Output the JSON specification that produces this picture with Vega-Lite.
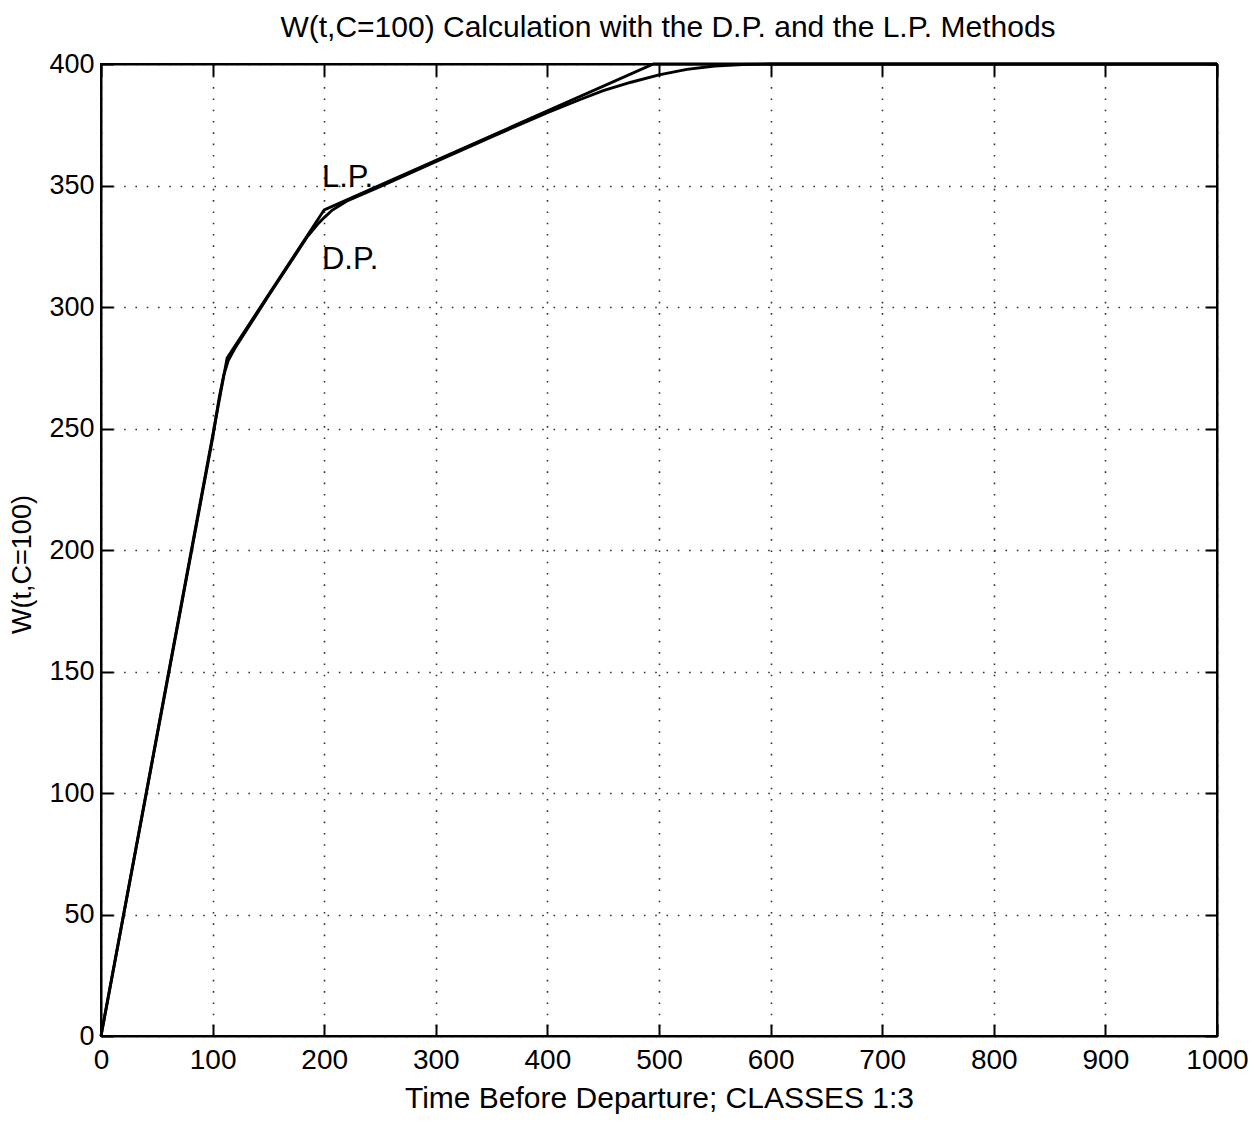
{
  "$schema": "https://vega.github.io/schema/vega-lite/v6.json",
  "width": 1116,
  "height": 972,
  "autosize": {"type": "none"},
  "padding": {"left": 101, "top": 64, "right": 42, "bottom": 86},
  "background": "white",
  "title": {
    "text": "W(t,C=100) Calculation with the D.P. and the L.P. Methods",
    "fontSize": 30,
    "fontWeight": "normal",
    "font": "Liberation Sans",
    "color": "black",
    "baseline": "alphabetic",
    "offset": -17,
    "dx": 9
  },
  "config": {
    "font": "Liberation Sans",
    "view": {"stroke": "black", "strokeWidth": 2},
    "axis": {
      "domain": true,
      "domainColor": "black",
      "domainWidth": 2,
      "tickColor": "black",
      "tickWidth": 2,
      "tickSize": -12,
      "labelFontSize": 27,
      "labelColor": "black",
      "labelFont": "Liberation Sans",
      "labelFlush": false,
      "titleFont": "Liberation Sans",
      "titleFontSize": 27,
      "titleFontWeight": "normal",
      "titleColor": "black",
      "gridColor": "#333333",
      "gridWidth": 1.6,
      "gridDash": [1.6, 9.7],
      "gridOpacity": 1
    }
  },
  "datasets": {
    "curves": [
      {"series": "L.P.", "t": 0, "w": 0},
      {"series": "L.P.", "t": 113, "w": 279},
      {"series": "L.P.", "t": 200, "w": 340},
      {"series": "L.P.", "t": 495, "w": 400},
      {"series": "L.P.", "t": 1000, "w": 400},
      {"series": "D.P.", "t": 0, "w": 0},
      {"series": "D.P.", "t": 100, "w": 246},
      {"series": "D.P.", "t": 106, "w": 263},
      {"series": "D.P.", "t": 110, "w": 272},
      {"series": "D.P.", "t": 114, "w": 278},
      {"series": "D.P.", "t": 120, "w": 283},
      {"series": "D.P.", "t": 150, "w": 304.5},
      {"series": "D.P.", "t": 185, "w": 329},
      {"series": "D.P.", "t": 195, "w": 334.5},
      {"series": "D.P.", "t": 200, "w": 336.8},
      {"series": "D.P.", "t": 207, "w": 339.8},
      {"series": "D.P.", "t": 220, "w": 343.5},
      {"series": "D.P.", "t": 250, "w": 349.5},
      {"series": "D.P.", "t": 300, "w": 359.8},
      {"series": "D.P.", "t": 350, "w": 370},
      {"series": "D.P.", "t": 400, "w": 380},
      {"series": "D.P.", "t": 430, "w": 385.5},
      {"series": "D.P.", "t": 450, "w": 389},
      {"series": "D.P.", "t": 475, "w": 392.5},
      {"series": "D.P.", "t": 500, "w": 395.5},
      {"series": "D.P.", "t": 525, "w": 397.8},
      {"series": "D.P.", "t": 550, "w": 399.2},
      {"series": "D.P.", "t": 575, "w": 399.8},
      {"series": "D.P.", "t": 600, "w": 400},
      {"series": "D.P.", "t": 1000, "w": 400}
    ],
    "labels": [
      {"label": "L.P.", "t": 198, "w": 353},
      {"label": "D.P.", "t": 198, "w": 319.5}
    ]
  },
  "layer": [
    {
      "data": {"name": "curves"},
      "mark": {"type": "line", "color": "black", "strokeWidth": 2.9, "clip": false},
      "encoding": {
        "x": {
          "field": "t", "type": "quantitative",
          "scale": {"domain": [0, 1000], "nice": false},
          "axis": {"orient": "bottom", "title": "Time Before Departure; CLASSES 1:3", "titleFontSize": 30, "format": "d", "values": [0,100,200,300,400,500,600,700,800,900,1000], "labelPadding": 22, "labelFontSize": 28, "titlePadding": 9, "grid": true}
        },
        "y": {
          "field": "w", "type": "quantitative",
          "scale": {"domain": [0, 400], "nice": false},
          "axis": {"orient": "left", "title": "W(t,C=100)", "titleY": 500, "format": "d", "values": [0,50,100,150,200,250,300,350,400], "labelPadding": 19, "titlePadding": 12, "grid": true}
        },
        "detail": {"field": "series"}
      }
    },
    {
      "data": {"name": "labels"},
      "mark": {"type": "text", "align": "left", "baseline": "middle", "fontSize": 31, "color": "black", "font": "Liberation Sans"},
      "encoding": {
        "x": {
          "field": "t", "type": "quantitative",
          "axis": {"orient": "top", "title": null, "labels": false, "grid": false, "values": [0,100,200,300,400,500,600,700,800,900,1000]}
        },
        "y": {
          "field": "w", "type": "quantitative",
          "axis": {"orient": "right", "title": null, "labels": false, "grid": false, "values": [0,50,100,150,200,250,300,350,400]}
        },
        "text": {"field": "label"}
      }
    }
  ],
  "resolve": {"axis": {"x": "independent", "y": "independent"}}
}
